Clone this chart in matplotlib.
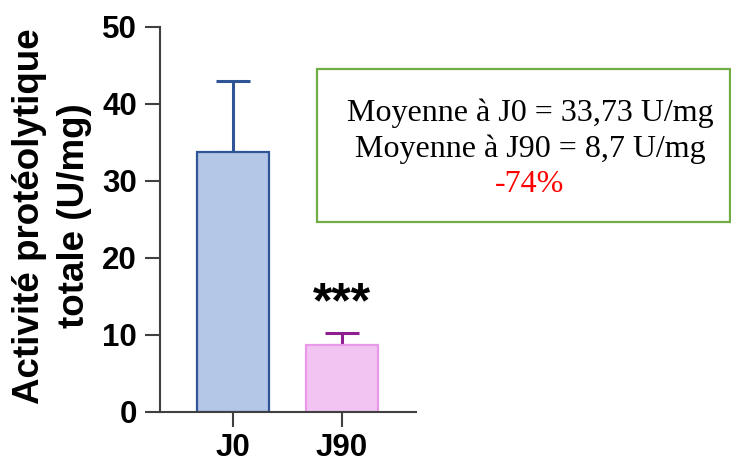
import matplotlib
matplotlib.use("Agg")
import matplotlib.pyplot as plt
from matplotlib.patches import Rectangle

categories = ["J0", "J90"]
means = [33.73, 8.7]
upper_err = [9.27, 1.5]
yticks = [0, 10, 20, 30, 40, 50]
box_lines = ["Moyenne à J0 = 33,73 U/mg", "Moyenne à J90 = 8,7 U/mg", "-74%"]
signif = "***"

fill_colors = ["#B4C7E7", "#F2C4F2"]
edge_colors = ["#2F5597", "#E899E8"]
err_colors = ["#2F5597", "#8E1F8E"]

W, H = 731, 461
fig = plt.figure(figsize=(W / 100, H / 100), dpi=100)
ax = fig.add_axes([160 / W, (H - 411.7) / H, 256 / W, 385 / H])

x = list(range(len(categories)))
for i in x:
    ax.bar(i, means[i], width=0.66, color=fill_colors[i], edgecolor=edge_colors[i],
           linewidth=1.6, zorder=2)
    ax.errorbar(i, means[i], yerr=[[0], [upper_err[i]]], fmt='none',
                ecolor=err_colors[i], elinewidth=2.2, capsize=12.5, capthick=2.2, zorder=1)

ax.set_xlim(-0.67, 1.68)
ax.set_ylim(0, 50)
ax.set_yticks(yticks)
ax.set_xticks(x)
ax.set_xticklabels(categories)
for s in ["top", "right"]:
    ax.spines[s].set_visible(False)
for s in ["left", "bottom"]:
    ax.spines[s].set_linewidth(1.5)
    ax.spines[s].set_color("#404040")
ax.tick_params(axis="both", length=11, width=1.5, color="#404040", direction="out")
ax.tick_params(axis="y", pad=5.5)
ax.tick_params(axis="x", pad=4.5)
for lab in ax.get_yticklabels() + ax.get_xticklabels():
    lab.set_fontfamily("Liberation Sans")
    lab.set_fontweight("bold")
    lab.set_fontsize(22.5)

ax.text(1, 12.2, signif, ha="center", va="baseline", fontsize=36,
        fontweight="bold", family="Liberation Sans")

fig.text(30 / W, 1 - 216 / H, "Activité protéolytique", rotation=90, ha="center",
         va="center", fontsize=26.5, fontweight="bold", family="Liberation Sans")
fig.text(75 / W, 1 - 216 / H, "totale (U/mg)", rotation=90, ha="center",
         va="center", fontsize=26.5, fontweight="bold", family="Liberation Sans")

fig.patches.append(Rectangle((317 / W, 1 - 222 / H), (729.5 - 317) / W, (222 - 69) / H,
                             transform=fig.transFigure, fill=False,
                             edgecolor="#70AD47", linewidth=1.6))
ys = [113, 149, 184]
cols = ["black", "black", "red"]
for t, yy, c in zip(box_lines, ys, cols):
    fig.text(530 / W, 1 - yy / H, t, ha="center", va="center", fontsize=23,
             family="Liberation Serif", color=c)

fig.savefig("out.png", dpi=100)
